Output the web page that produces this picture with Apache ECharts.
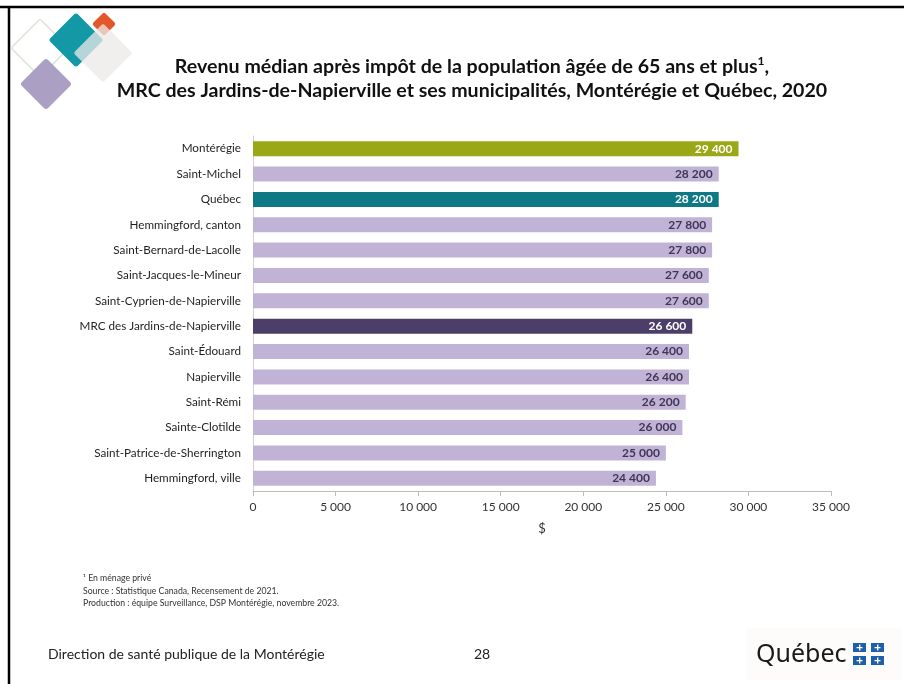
<!DOCTYPE html>
<html><head><meta charset="utf-8">
<script src="https://cdn.jsdelivr.net/npm/echarts@6/dist/echarts.min.js"></script>
<style>html,body{margin:0;padding:0;background:#fff}#c{width:904px;height:684px}</style>
</head><body><div id="c"></div>
<script>
const categories = ['Montérégie','Saint-Michel','Québec','Hemmingford, canton','Saint-Bernard-de-Lacolle','Saint-Jacques-le-Mineur','Saint-Cyprien-de-Napierville','MRC des Jardins-de-Napierville','Saint-Édouard','Napierville','Saint-Rémi','Sainte-Clotilde','Saint-Patrice-de-Sherrington','Hemmingford, ville'];
const values = [29400,28200,28200,27800,27800,27600,27600,26600,26400,26400,26200,26000,25000,24400];
const xTicks = [0,5000,10000,15000,20000,25000,30000,35000];

const FONT = 'Lato';
const special = {'Montérégie':'#9aa717','Québec':'#0e7884','MRC des Jardins-de-Napierville':'#4b3e69'};
const fmt = v => String(v).replace(/\B(?=(\d{3})+(?!\d))/g,'\u202f');

const data = values.map((v,i)=>{
  const c = special[categories[i]];
  return {value:v, itemStyle:{color:c||'#c1b3d6'}, label:{color:c?'#ffffff':'#3f3656'}};
});

function diamond(cx,cy,s,style,r){
  return {type:'rect', x:cx, y:cy, rotation:Math.PI/4, shape:{x:-s/2,y:-s/2,width:s,height:s,r:r||3}, style:style, silent:true};
}
function flag(x,y){
  return [
    {type:'rect', shape:{x:x,y:y,width:13,height:9}, style:{fill:'#1d5fa8'}},
    {type:'rect', shape:{x:x+6,y:y+1.5,width:1.4,height:6}, style:{fill:'#fff'}},
    {type:'rect', shape:{x:x+3.5,y:y+4,width:6,height:1.3}, style:{fill:'#fff'}}
  ];
}

const chart = echarts.init(document.getElementById('c'));
chart.setOption({
  backgroundColor:'#ffffff',
  textStyle:{fontFamily:FONT},
  title:{
    text:'{t|Revenu médian après impôt de la population âgée de 65 ans et plus}{s|1}{t|,}\n{t|MRC des Jardins-de-Napierville et ses municipalités, Montérégie et Québec, 2020}',
    left:467, top:50, textAlign:'center',
    textStyle:{rich:{
      t:{fontFamily:FONT,fontWeight:'bold',fontSize:19.6,color:'#111',lineHeight:24},
      s:{fontFamily:FONT,fontWeight:'bold',fontSize:12,color:'#111',verticalAlign:'top',lineHeight:24,padding:[0,0,8,0]}
    }}
  },
  grid:{left:253,right:73,top:136,bottom:193,containLabel:false},
  xAxis:{
    type:'value', min:0, max:35000, interval:5000,
    name:'$', nameLocation:'middle', nameGap:31,
    nameTextStyle:{fontFamily:FONT,fontSize:13,color:'#333'},
    axisLine:{show:true,lineStyle:{color:'#bdbdbd'}},
    axisTick:{show:true,length:5,lineStyle:{color:'#bdbdbd'}},
    splitLine:{show:false},
    axisLabel:{fontFamily:FONT,fontSize:12,color:'#333',margin:10,formatter:v=>fmt(v)}
  },
  yAxis:{
    type:'category', data:categories, inverse:true,
    axisLine:{show:true,lineStyle:{color:'#d0d0d0'}},
    axisTick:{show:false},
    axisLabel:{fontFamily:FONT,fontSize:11.7,color:'#1e1e1e',margin:12}
  },
  series:[{
    type:'bar', data:data, barWidth:15,
    label:{show:true,position:'insideRight',fontFamily:FONT,fontWeight:'bold',fontSize:12,distance:6,formatter:p=>fmt(p.value)}
  }],
  graphic:[
    {type:'rect', shape:{x:0,y:0,width:904,height:684}, style:{fill:'#fff'}, z:-10, silent:true},
    {type:'line', shape:{x1:0,y1:7,x2:904,y2:7}, style:{stroke:'#000',lineWidth:2.5}},
    {type:'line', shape:{x1:9,y1:6,x2:9,y2:684}, style:{stroke:'#000',lineWidth:2.5}},
    diamond(40,48,41,{fill:'none',stroke:'#dfe5d8',lineWidth:1.5}),
    diamond(46,84,37,{fill:'#ab9fc4'}),
    diamond(76,40,39,{fill:'#1398a6'}),
    diamond(104,24,17,{fill:'#e4572a'},2),
    diamond(103,53,42,{fill:'rgba(236,234,232,0.75)'}),
    {type:'rect', shape:{x:746,y:628,width:156,height:52}, style:{fill:'#fdfcfb'}, z:-5},
    {type:'text', x:756, y:655, style:{text:'Québec', font:'25px "Noto Sans"', fill:'#1a1a1a', textVerticalAlign:'middle'}},
    ...flag(853,643), ...flag(871,643), ...flag(853,656), ...flag(871,656),
    {type:'text', x:48, y:654, style:{text:'Direction de santé publique de la Montérégie', font:'14px '+FONT, fill:'#222', textVerticalAlign:'middle'}},
    {type:'text', x:474, y:654, style:{text:'28', font:'14px '+FONT, fill:'#222', textVerticalAlign:'middle'}},
    {type:'text', x:83, y:572, style:{text:'¹ En ménage privé\nSource : Statistique Canada, Recensement de 2021.\nProduction : équipe Surveillance, DSP Montérégie, novembre 2023.', font:'8.7px '+FONT, fill:'#333', lineHeight:12.5}}
  ]
});
</script></body></html>
